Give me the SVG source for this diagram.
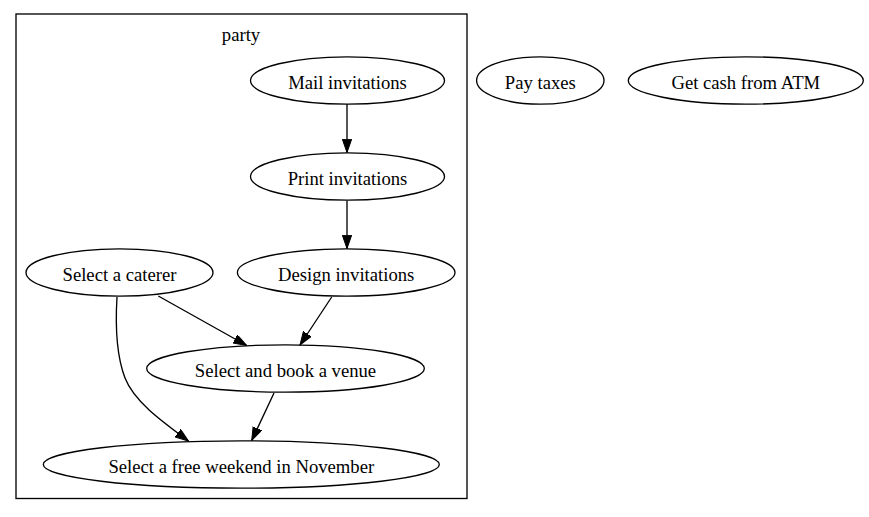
<svg xmlns="http://www.w3.org/2000/svg" width="869" height="517" viewBox="0 0 869 517">
<style>
.n ellipse{fill:none;stroke:#000;stroke-width:1.33}
text{font-family:"Liberation Serif","Times New Roman",serif;font-size:18.67px;fill:#000;text-anchor:middle}
.e path{fill:none;stroke:#000;stroke-width:1.33;marker-end:url(#ah)}
</style>
<defs>
<marker id="ah" markerUnits="userSpaceOnUse" markerWidth="14" markerHeight="10" refX="13.3" refY="4.67" orient="auto">
<path d="M0,0 L13.3,4.67 L0,9.33 Z" fill="#000" stroke="#000" stroke-width="1"/>
</marker>
</defs>
<rect width="869" height="517" fill="#fff"/>
<g id="cluster_party">
<rect x="16" y="14" width="451" height="484.5" fill="none" stroke="#000" stroke-width="1.33"/>
<text x="241" y="40.5">party</text>
</g>
<g class="e" id="edges">
<path d="M347,104 L347,152.5"/>
<path d="M347,200.5 L347,248.5"/>
<path d="M158.3,296 L246.7,345.5"/>
<path d="M331.7,297 L300,345"/>
<path d="M117,297 C115,330 117,357 125,378 C134,401 160,420 188.5,441"/>
<path d="M274,393 L251.7,440.5"/>
</g>
<g class="n" id="mail"><ellipse cx="347.5" cy="80.5" rx="97" ry="23.7"/><text x="347.5" y="88.5">Mail invitations</text></g>
<g class="n" id="print"><ellipse cx="347.5" cy="176.5" rx="97" ry="23.7"/><text x="347.5" y="184.5">Print invitations</text></g>
<g class="n" id="design"><ellipse cx="346.2" cy="272.5" rx="108.8" ry="23.7"/><text x="346.2" y="280.5">Design invitations</text></g>
<g class="n" id="caterer"><ellipse cx="119.5" cy="272.5" rx="93.5" ry="23.7"/><text x="119.5" y="280.5">Select a caterer</text></g>
<g class="n" id="venue"><ellipse cx="285.5" cy="368.5" rx="138.8" ry="23.7"/><text x="285.5" y="376.5">Select and book a venue</text></g>
<g class="n" id="weekend"><ellipse cx="241.3" cy="464.5" rx="198" ry="23.7"/><text x="241.3" y="472.5">Select a free weekend in November</text></g>
<g class="n" id="taxes"><ellipse cx="540.3" cy="80.5" rx="63.7" ry="23.7"/><text x="540.3" y="88.5">Pay taxes</text></g>
<g class="n" id="atm"><ellipse cx="745.8" cy="80.5" rx="117.5" ry="23.7"/><text x="745.8" y="88.5">Get cash from ATM</text></g>
</svg>
